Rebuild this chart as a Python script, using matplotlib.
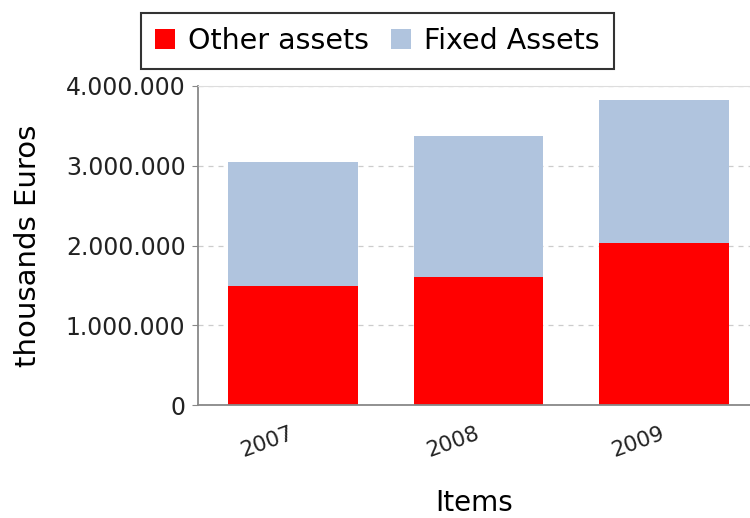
import matplotlib
matplotlib.use("Agg")
import matplotlib.pyplot as plt
from matplotlib.ticker import FuncFormatter
import numpy as np

# data
years = ["2007", "2008", "2009"]
other_assets = [1490000, 1600000, 2030000]
fixed_assets = [1560000, 1770000, 1800000]

fig = plt.figure(figsize=(7.5, 5.18), dpi=100)
ax = fig.add_axes([0.264, 0.218, 0.736, 0.616])

x = np.arange(len(years))
ax.bar(x, other_assets, width=0.7, color="#FF0000", label="Other assets")
ax.bar(x, fixed_assets, width=0.7, bottom=other_assets, color="#B0C4DE", label="Fixed Assets")

ax.set_xlim(-0.512, 2.464)
ax.set_ylim(0, 4000000)
ax.set_yticks([0, 1000000, 2000000, 3000000, 4000000])
ax.yaxis.set_major_formatter(FuncFormatter(lambda v, p: f"{int(v):,}".replace(",", ".")))
ax.set_xticks(x)
ax.set_xticklabels(years, rotation=20, fontsize=15.5, ha="right", va="center",
                   rotation_mode="anchor")
ax.tick_params(axis="y", labelsize=17, length=4, pad=5, color="#888888", colors="#222222")
ax.tick_params(axis="x", length=0, pad=20, colors="#222222")

ax.grid(axis="y", color="#cccccc", linestyle=(0, (4, 4)), linewidth=0.9)
ax.set_axisbelow(True)
for s in ["left", "bottom"]:
    ax.spines[s].set_color("#888888")
    ax.spines[s].set_linewidth(1.3)
ax.spines["top"].set_color("#dddddd")
ax.spines["right"].set_visible(False)

ax.set_ylabel("thousands Euros", fontsize=21, va="center")
ax.yaxis.set_label_coords(-0.308, 0.5)
ax.set_xlabel("Items", fontsize=20, va="center")
ax.xaxis.set_label_coords(0.5, -0.307)

leg = fig.legend(loc="center", bbox_to_anchor=(0.503, 0.921), ncol=2, fontsize=20.5,
                 frameon=True, fancybox=False, edgecolor="black", handlelength=0.7,
                 handleheight=0.7, handletextpad=0.45, columnspacing=0.8, borderpad=0.5)
leg.get_frame().set_linewidth(1.5)

fig.savefig("out.png", dpi=100)
